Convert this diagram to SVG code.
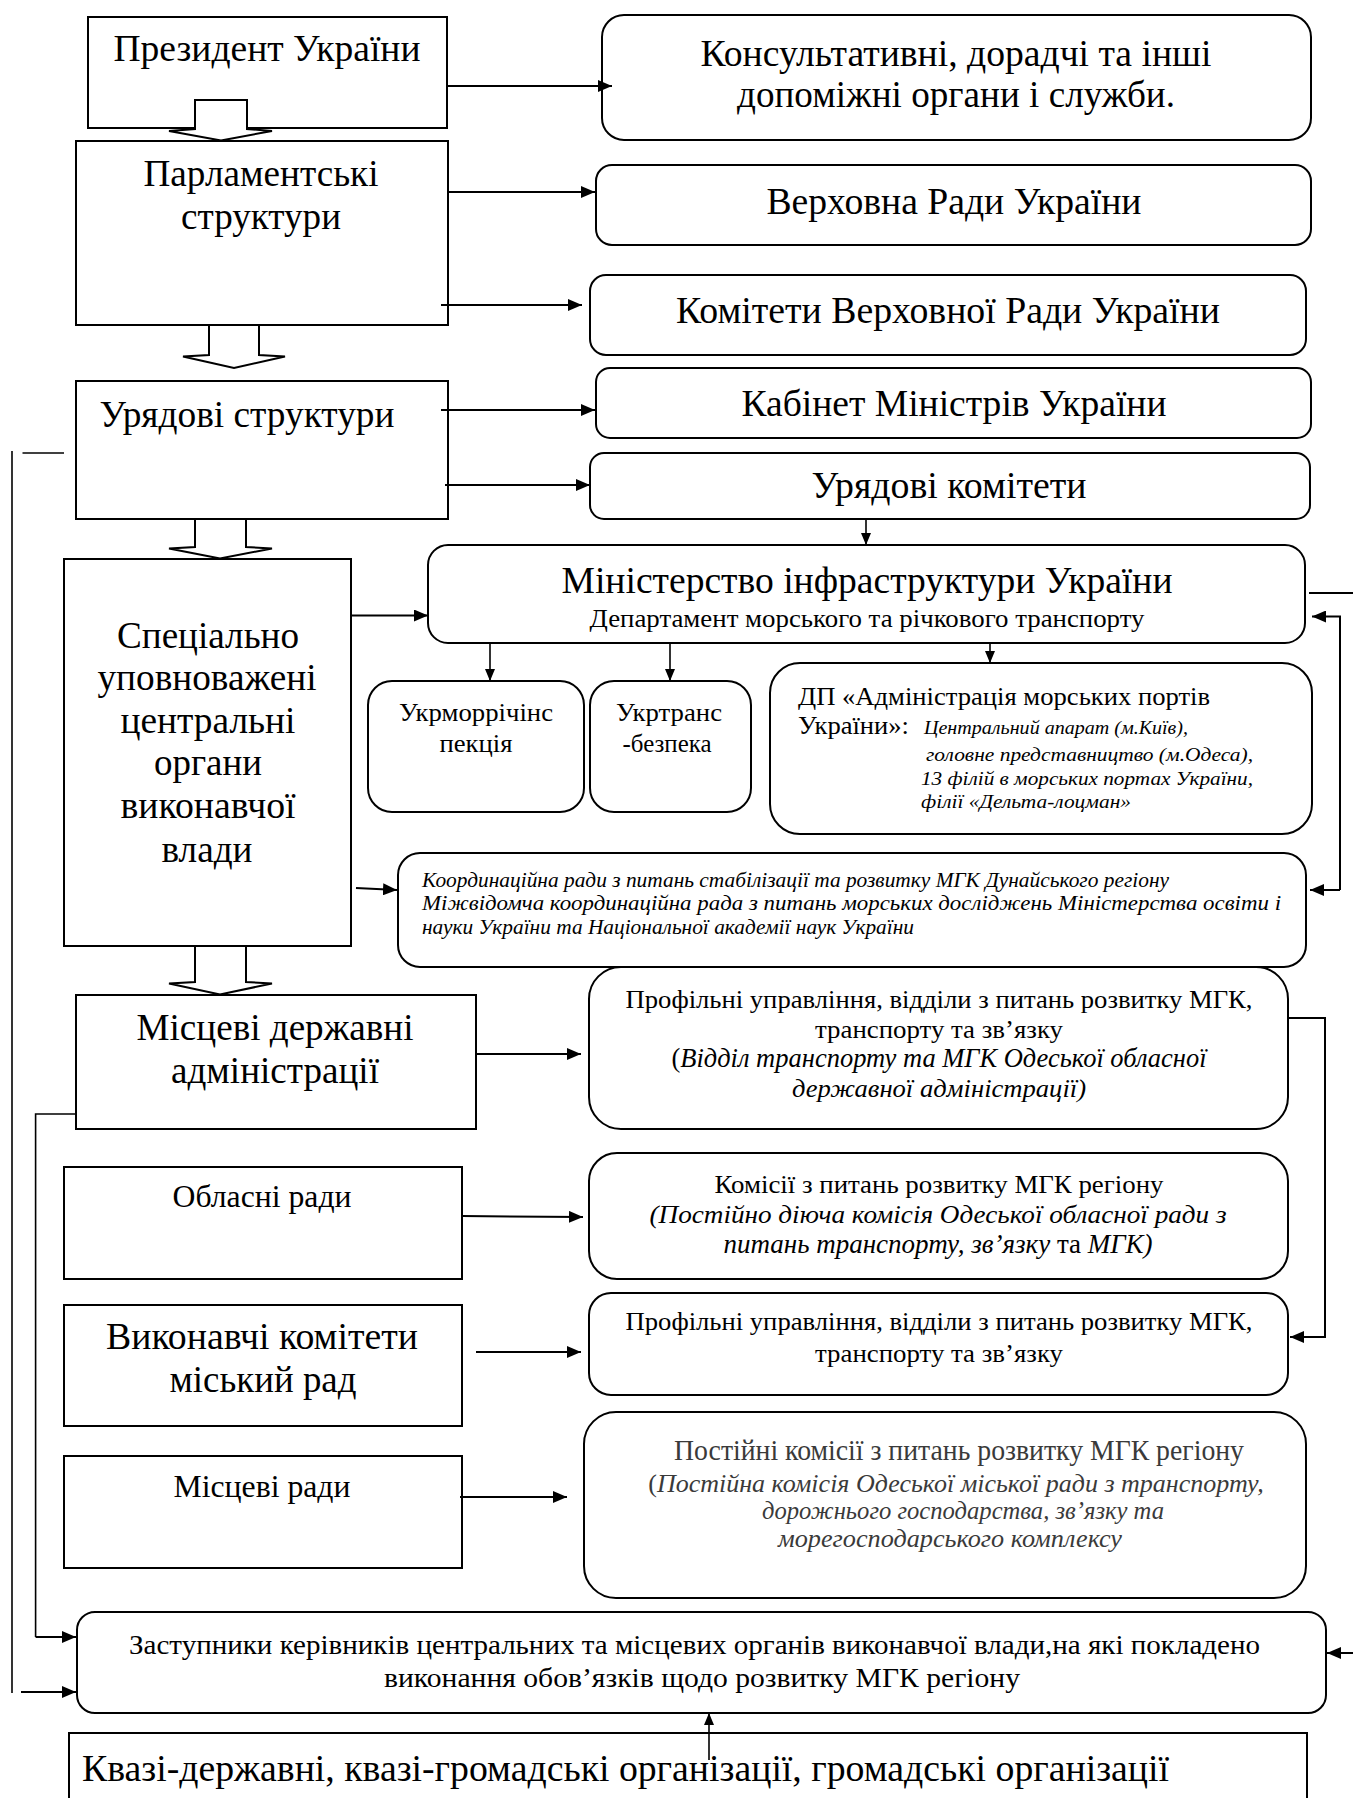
<svg xmlns="http://www.w3.org/2000/svg" width="1353" height="1798" viewBox="0 0 1353 1798">
<style>
text{font-family:"Liberation Serif",serif;fill:#000}
.b{fill:#fff;stroke:#000;stroke-width:2}
.c{fill:none;stroke:#000;stroke-width:2}
.t{stroke:#000;stroke-width:1.6;fill:none}
.m{text-anchor:middle}
.L{font-size:37.5px}
.M{font-size:31.5px}
.S{font-size:26px}
.i{font-style:italic}
.g{fill:#3a3a3a}
</style>
<defs>
<marker id="ah" viewBox="0 0 14 12" refX="14" refY="6" markerWidth="14" markerHeight="12" markerUnits="userSpaceOnUse" orient="auto"><path d="M0,0 L14,6 L0,12 Z" fill="#000"/></marker>
<marker id="as" viewBox="0 0 12 10" refX="12" refY="5" markerWidth="12" markerHeight="10" markerUnits="userSpaceOnUse" orient="auto"><path d="M0,0 L12,5 L0,10 Z" fill="#000"/></marker>
</defs>

<g id="president"><rect class="b" x="88" y="17" width="359" height="111"/><text class="L m" x="267" y="61" textLength="307" lengthAdjust="spacingAndGlyphs">Президент України</text></g>
<g id="konsult"><rect class="b" x="602" y="15" width="709" height="125" rx="22"/><text class="L m" x="956" y="66" textLength="511" lengthAdjust="spacingAndGlyphs">Консультативні, дорадчі та інші</text><text class="L m" x="956" y="107" textLength="438" lengthAdjust="spacingAndGlyphs">допоміжні органи і служби.</text></g>
<g id="parl"><rect class="b" x="76" y="141" width="372" height="184"/><text class="L m" x="261" y="186" textLength="235" lengthAdjust="spacingAndGlyphs">Парламентські</text><text class="L m" x="261" y="229" textLength="160" lengthAdjust="spacingAndGlyphs">структури</text></g>
<g id="verkhovna"><rect class="b" x="596" y="165" width="715" height="80" rx="16"/><text class="L m" x="954" y="214" textLength="375" lengthAdjust="spacingAndGlyphs">Верховна Ради України</text></g>
<g id="komitety-vr"><rect class="b" x="590" y="275" width="716" height="80" rx="16"/><text class="L m" x="948" y="323" textLength="544" lengthAdjust="spacingAndGlyphs">Комітети Верховної Ради України</text></g>
<g id="uryadovi"><rect class="b" x="76" y="381" width="372" height="138"/><text class="L m" x="247" y="427" textLength="295" lengthAdjust="spacingAndGlyphs">Урядові структури</text></g>
<g id="kabinet"><rect class="b" x="596" y="368" width="715" height="70" rx="14"/><text class="L m" x="954" y="416" textLength="425" lengthAdjust="spacingAndGlyphs">Кабінет Міністрів України</text></g>
<g id="uryadovi-komitety"><rect class="b" x="590" y="453" width="720" height="66" rx="14"/><text class="L m" x="949" y="498" textLength="275" lengthAdjust="spacingAndGlyphs">Урядові комітети</text></g>
<g id="spetsialno"><rect class="b" x="64" y="559" width="287" height="387"/>
<text class="L m" x="208" y="648" textLength="182" lengthAdjust="spacingAndGlyphs">Спеціально</text>
<text class="L m" x="207" y="690" textLength="219" lengthAdjust="spacingAndGlyphs">уповноважені</text>
<text class="L m" x="208" y="733" textLength="175" lengthAdjust="spacingAndGlyphs">центральні</text>
<text class="L m" x="208" y="775" textLength="108" lengthAdjust="spacingAndGlyphs">органи</text>
<text class="L m" x="208" y="818" textLength="175" lengthAdjust="spacingAndGlyphs">виконавчої</text>
<text class="L m" x="207" y="862" textLength="91" lengthAdjust="spacingAndGlyphs">влади</text></g>
<g id="ministry"><rect class="b" x="428" y="545" width="877" height="98" rx="20"/><text class="L m" x="867" y="593" textLength="611" lengthAdjust="spacingAndGlyphs">Міністерство інфраструктури України</text><text class="m" font-size="25" x="867" y="627" textLength="555" lengthAdjust="spacingAndGlyphs">Департамент морського та річкового транспорту</text></g>
<g id="ukrmor"><rect class="b" x="368" y="681" width="216" height="131" rx="24"/><text class="m" font-size="26" x="476" y="721" textLength="154" lengthAdjust="spacingAndGlyphs">Укрморрічінс</text><text class="m" font-size="26" x="476" y="752" textLength="73" lengthAdjust="spacingAndGlyphs">пекція</text></g>
<g id="ukrtrans"><rect class="b" x="590" y="681" width="161" height="131" rx="24"/><text class="m" font-size="26" x="669" y="721" textLength="106" lengthAdjust="spacingAndGlyphs">Укртранс</text><text class="m" font-size="26" x="667" y="752" textLength="89" lengthAdjust="spacingAndGlyphs">-безпека</text></g>
<g id="dp"><rect class="b" x="770" y="663" width="542" height="171" rx="30"/>
<text font-size="25" x="798" y="705" textLength="412" lengthAdjust="spacingAndGlyphs">ДП «Адміністрація морських портів</text>
<text font-size="25" x="798" y="734" textLength="111" lengthAdjust="spacingAndGlyphs">України»:</text>
<text class="i" font-size="19.5" x="924" y="734" textLength="264" lengthAdjust="spacingAndGlyphs">Центральний апарат (м.Київ),</text>
<text class="i" font-size="19.5" x="926" y="761" textLength="327" lengthAdjust="spacingAndGlyphs">головне представництво (м.Одеса),</text>
<text class="i" font-size="19.5" x="921" y="785" textLength="332" lengthAdjust="spacingAndGlyphs">13 філій в морських портах України,</text>
<text class="i" font-size="19.5" x="921" y="808" textLength="210" lengthAdjust="spacingAndGlyphs">філії «Дельта-лоцман»</text></g>
<g id="koord"><rect class="b" x="398" y="853" width="908" height="114" rx="22"/>
<text class="i" font-size="21" x="422" y="887" textLength="747" lengthAdjust="spacingAndGlyphs">Координаційна ради з питань стабілізації та розвитку МГК Дунайського регіону</text>
<text class="i" font-size="21" x="422" y="910" textLength="859" lengthAdjust="spacingAndGlyphs">Міжвідомча координаційна рада з питань морських досліджень Міністерства освіти і</text>
<text class="i" font-size="21" x="422" y="934" textLength="492" lengthAdjust="spacingAndGlyphs">науки України та Національної академії наук України</text></g>
<g id="mistsevi-derzh"><rect class="b" x="76" y="995" width="400" height="134"/><text class="L m" x="275" y="1040" textLength="277" lengthAdjust="spacingAndGlyphs">Місцеві державні</text><text class="L m" x="275" y="1083" textLength="208" lengthAdjust="spacingAndGlyphs">адміністрації</text></g>
<g id="profilni-1"><rect class="b" x="589" y="967" width="699" height="162" rx="32"/>
<text class="S m" x="939" y="1008" textLength="627" lengthAdjust="spacingAndGlyphs">Профільні управління, відділи з питань розвитку МГК,</text>
<text class="S m" x="939" y="1038" textLength="248" lengthAdjust="spacingAndGlyphs">транспорту та зв’язку</text>
<text class="m" font-size="26.5" x="939" y="1067">(<tspan class="i">Відділ транспорту  та МГК Одеської обласної</tspan></text>
<text class="S m i" x="939" y="1097" textLength="294" lengthAdjust="spacingAndGlyphs">державної адміністрації)</text></g>
<g id="oblasni"><rect class="b" x="64" y="1167" width="398" height="112"/><text class="M m" x="262" y="1207" textLength="179" lengthAdjust="spacingAndGlyphs">Обласні ради</text></g>
<g id="komisii"><rect class="b" x="589" y="1153" width="699" height="126" rx="28"/>
<text class="S m" x="939" y="1193" textLength="449" lengthAdjust="spacingAndGlyphs">Комісії з питань розвитку МГК регіону</text>
<text class="S m i" x="938" y="1223" textLength="577" lengthAdjust="spacingAndGlyphs">(Постійно діюча  комісія Одеської обласної ради з</text>
<text class="m" font-size="27" x="938" y="1253"><tspan class="i">питань транспорту, зв’язку </tspan> та <tspan class="i">МГК)</tspan></text></g>
<g id="vykonavchi"><rect class="b" x="64" y="1305" width="398" height="121"/><text class="L m" x="262" y="1349" textLength="312" lengthAdjust="spacingAndGlyphs">Виконавчі комітети</text><text class="L m" x="263" y="1392" textLength="187" lengthAdjust="spacingAndGlyphs">міський рад</text></g>
<g id="profilni-2"><rect class="b" x="589" y="1293" width="699" height="102" rx="22"/>
<text class="S m" x="939" y="1330" textLength="627" lengthAdjust="spacingAndGlyphs">Профільні управління, відділи з питань розвитку МГК,</text>
<text class="S m" x="939" y="1362" textLength="248" lengthAdjust="spacingAndGlyphs">транспорту та зв’язку</text></g>
<g id="mistsevi-rady"><rect class="b" x="64" y="1456" width="398" height="112"/><text class="M m" x="262" y="1497" textLength="177" lengthAdjust="spacingAndGlyphs">Місцеві ради</text></g>
<g id="postiini"><rect class="b" x="584" y="1412" width="722" height="186" rx="32"/>
<text class="g m" font-size="28.5" x="959" y="1460" textLength="570" lengthAdjust="spacingAndGlyphs">Постійні комісії з питань розвитку МГК регіону</text>
<text class="g m" font-size="26" x="956" y="1492">(<tspan class="i">Постійна комісія Одеської міської ради  з транспорту,</tspan></text>
<text class="g m i" font-size="25.5" x="963" y="1519" textLength="402" lengthAdjust="spacingAndGlyphs">дорожнього господарства, зв’язку  та</text>
<text class="g m i" font-size="25.5" x="950" y="1547" textLength="344" lengthAdjust="spacingAndGlyphs">морегосподарського комплексу</text></g>
<g id="zastupnyky"><rect class="b" x="77" y="1612" width="1249" height="101" rx="18"/>
<text font-size="27" x="129" y="1654" textLength="1131" lengthAdjust="spacingAndGlyphs">Заступники керівників центральних та місцевих органів виконавчої влади,на які покладено</text>
<text font-size="27" x="384" y="1687" textLength="636" lengthAdjust="spacingAndGlyphs">виконання обов’язків щодо  розвитку МГК регіону</text></g>
<g id="kvazi"><rect class="b" x="69" y="1733" width="1238" height="90"/><text class="L" x="82" y="1781" textLength="1087" lengthAdjust="spacingAndGlyphs">Квазі-державні, квазі-громадські організації, громадські організації</text></g>

<g id="connectors">
<polygon class="b" points="195,100 247,100 247,129 272,131 221,140.5 169,131 195,129"/>
<polygon class="b" points="209,325 259,325 259,355 285,356.5 234,368 183,356.5 209,355"/>
<polygon class="b" points="195,519 246,519 246,547 272,548.5 220,558.5 169,548.5 195,547"/>
<polygon class="b" points="195,946 246,946 246,982 272,983.5 220,994.5 169,983.5 195,982"/>
<line class="c" x1="447" y1="86" x2="612" y2="86" marker-end="url(#ah)"/>
<line class="c" x1="447" y1="192" x2="595" y2="192" marker-end="url(#ah)"/>
<line class="c" x1="441" y1="305" x2="582" y2="305" marker-end="url(#ah)"/>
<line class="c" x1="441" y1="410" x2="595" y2="410" marker-end="url(#ah)"/>
<line class="c" x1="445" y1="485" x2="590" y2="485" marker-end="url(#ah)"/>
<line class="t" x1="866" y1="519" x2="866" y2="545" marker-end="url(#as)"/>
<line class="c" x1="351" y1="615.5" x2="428" y2="615.5" marker-end="url(#ah)"/>
<line class="t" x1="490" y1="643" x2="490" y2="681" marker-end="url(#as)"/>
<line class="t" x1="670" y1="643" x2="670" y2="681" marker-end="url(#as)"/>
<line class="t" x1="990" y1="643" x2="990" y2="663" marker-end="url(#as)"/>
<line class="c" x1="356" y1="888" x2="397" y2="890" marker-end="url(#ah)"/>
<line class="c" x1="1309" y1="593" x2="1353" y2="593"/>
<path class="c" d="M1340,890 V616.5 H1312" marker-end="url(#ah)"/>
<path class="c" d="M1340,890 H1310" marker-end="url(#ah)"/>
<line class="c" x1="476" y1="1054" x2="581" y2="1054" marker-end="url(#ah)"/>
<path class="c" d="M1288,1018 H1325 V1337 H1290" marker-end="url(#ah)"/>
<line class="c" x1="462" y1="1216" x2="583" y2="1217" marker-end="url(#ah)"/>
<line class="c" x1="476" y1="1352" x2="581" y2="1352" marker-end="url(#ah)"/>
<line class="c" x1="460" y1="1497" x2="567" y2="1497" marker-end="url(#ah)"/>
<line class="t" x1="22.5" y1="453" x2="64" y2="453"/>
<line class="t" x1="12" y1="451" x2="12" y2="1693"/>
<line class="c" x1="21" y1="1692" x2="76" y2="1692" marker-end="url(#ah)"/>
<path class="t" d="M76,1114 H35.6 V1637"/>
<line class="c" x1="35.6" y1="1637" x2="76" y2="1637" marker-end="url(#ah)"/>
<line class="t" x1="709" y1="1760" x2="709" y2="1713" marker-end="url(#as)"/>
<line class="c" x1="1353" y1="1653" x2="1327" y2="1653" marker-end="url(#ah)"/>
</g>
</svg>
